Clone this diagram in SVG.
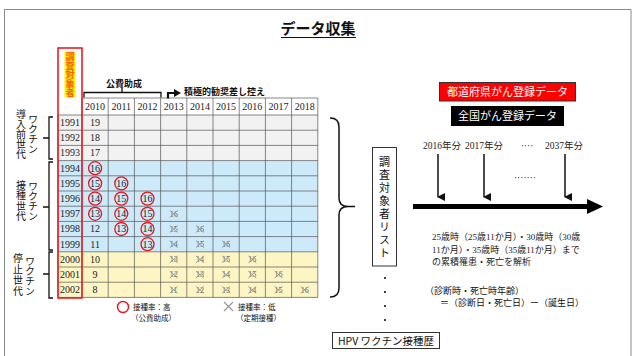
<svg xmlns="http://www.w3.org/2000/svg" width="634" height="356" viewBox="0 0 634 356">
<defs>
<style>
.jp{font-family:"Noto Sans CJK JP","Liberation Sans",sans-serif;fill:#111}
.sr{font-family:"Liberation Serif","Noto Sans CJK JP",serif;fill:#222}
.num{font-family:"Liberation Serif",serif;font-size:10px;fill:#222;text-anchor:middle}
.xn{font-family:"Liberation Serif",serif;font-size:8px;fill:#666;text-anchor:middle}
.grid{stroke:#555;stroke-width:0.7;fill:none}
.circ{fill:none;stroke:#e8141c;stroke-width:1.3}
.xx{stroke:#999;stroke-width:0.9;fill:none}
.vt{writing-mode:vertical-rl;text-anchor:middle}
.br{fill:none;stroke:#111;stroke-width:1.3}
</style>
<marker id="ah" markerUnits="userSpaceOnUse" markerWidth="8" markerHeight="8" refX="4" refY="7" orient="auto-start-reverse" viewBox="0 0 8 8">
<path d="M0,0 L8,0 L4,8 z" fill="#111"/>
</marker>
<marker id="ahr" markerUnits="userSpaceOnUse" markerWidth="7" markerHeight="8" refX="3" refY="4" orient="0" viewBox="0 0 7 8">
<path d="M0,0 L7,4 L0,8 z" fill="#111"/>
</marker>
</defs>
<rect x="0" y="0" width="634" height="356" fill="#fff"/>
<path d="M4.5,360 L4.5,9.5 L631,9.5 L631,360" fill="none" stroke="#888" stroke-width="1"/>

<g id="title">
<text class="jp" x="318" y="34" font-size="15" font-weight="bold" text-anchor="middle">データ収集</text>
<line x1="281" y1="37.5" x2="356" y2="37.5" stroke="#111" stroke-width="1.2"/>
</g>

<g id="table">
<rect x="58" y="115" width="259.8" height="45.6" fill="#f2f2f2"/>
<rect x="58" y="160.6" width="259.8" height="91.2" fill="#cdeafa"/>
<rect x="58" y="251.8" width="259.8" height="45.6" fill="#fdf6c4"/>
<g class="grid">
<path d="M82,98 H317.8 M58,115 H317.8 M58,130.2 H317.8 M58,145.4 H317.8 M58,160.6 H317.8 M58,175.8 H317.8 M58,191 H317.8 M58,206.2 H317.8 M58,221.4 H317.8 M58,236.6 H317.8 M58,251.8 H317.8 M58,267 H317.8 M58,282.2 H317.8 M58,297.4 H317.8"/>
<path d="M58,115 V297.4 M82,98 V297.4 M108.2,98 V297.4 M134.4,98 V297.4 M160.6,98 V297.4 M186.8,98 V297.4 M213,98 V297.4 M239.2,98 V297.4 M265.4,98 V297.4 M291.6,98 V297.4 M317.8,98 V297.4"/>
</g>
<g class="num">
<text x="95.1" y="110">2010</text><text x="121.3" y="110">2011</text><text x="147.5" y="110">2012</text><text x="173.7" y="110">2013</text><text x="199.9" y="110">2014</text><text x="226.1" y="110">2015</text><text x="252.3" y="110">2016</text><text x="278.5" y="110">2017</text><text x="304.7" y="110">2018</text>
<text x="70" y="126">1991</text><text x="70" y="141.2">1992</text><text x="70" y="156.4">1993</text><text x="70" y="171.6">1994</text><text x="70" y="186.8">1995</text><text x="70" y="202">1996</text><text x="70" y="217.2">1997</text><text x="70" y="232.4">1998</text><text x="70" y="247.6">1999</text><text x="70" y="262.8">2000</text><text x="70" y="278">2001</text><text x="70" y="293.2">2002</text>
<text x="95.1" y="126">19</text><text x="95.1" y="141.2">18</text><text x="95.1" y="156.4">17</text><text x="95.1" y="171.6">16</text><text x="95.1" y="186.8">15</text><text x="95.1" y="202">14</text><text x="95.1" y="217.2">13</text><text x="95.1" y="232.4">12</text><text x="95.1" y="247.6">11</text><text x="95.1" y="262.8">10</text><text x="95.1" y="278">9</text><text x="95.1" y="293.2">8</text>
<text x="121.3" y="186.8">16</text><text x="121.3" y="202">15</text><text x="147.5" y="202">16</text>
<text x="121.3" y="217.2">14</text><text x="147.5" y="217.2">15</text>
<text x="121.3" y="232.4">13</text><text x="147.5" y="232.4">14</text>
<text x="147.5" y="247.6">13</text>
</g>
<g class="circ">
<circle cx="95.1" cy="168.2" r="6.5"/>
<circle cx="95.1" cy="183.4" r="6.5"/><circle cx="121.3" cy="183.4" r="6.5"/>
<circle cx="95.1" cy="198.6" r="6.5"/><circle cx="121.3" cy="198.6" r="6.5"/><circle cx="147.5" cy="198.6" r="6.5"/>
<circle cx="95.1" cy="213.8" r="6.5"/><circle cx="121.3" cy="213.8" r="6.5"/><circle cx="147.5" cy="213.8" r="6.5"/>
<circle cx="121.3" cy="229" r="6.5"/><circle cx="147.5" cy="229" r="6.5"/>
<circle cx="147.5" cy="244.2" r="6.5"/>
</g>
<g class="xn">
<text x="173.7" y="216.6">16</text>
<text x="173.7" y="231.8">15</text><text x="199.9" y="231.8">16</text>
<text x="173.7" y="247">14</text><text x="199.9" y="247">15</text><text x="226.1" y="247">16</text>
<text x="173.7" y="262.2">13</text><text x="199.9" y="262.2">14</text><text x="226.1" y="262.2">15</text><text x="252.3" y="262.2">16</text>
<text x="173.7" y="277.4">12</text><text x="199.9" y="277.4">13</text><text x="226.1" y="277.4">14</text><text x="252.3" y="277.4">15</text><text x="278.5" y="277.4">16</text>
<text x="173.7" y="292.6">11</text><text x="199.9" y="292.6">12</text><text x="226.1" y="292.6">13</text><text x="252.3" y="292.6">14</text><text x="278.5" y="292.6">15</text><text x="304.7" y="292.6">16</text>
</g>
<g class="xx">
<path d="M169.7,210.3 l8,7 m0,-7 l-8,7"/>
<path d="M169.7,225.5 l8,7 m0,-7 l-8,7 M195.9,225.5 l8,7 m0,-7 l-8,7"/>
<path d="M169.7,240.7 l8,7 m0,-7 l-8,7 M195.9,240.7 l8,7 m0,-7 l-8,7 M222.1,240.7 l8,7 m0,-7 l-8,7"/>
<path d="M169.7,255.9 l8,7 m0,-7 l-8,7 M195.9,255.9 l8,7 m0,-7 l-8,7 M222.1,255.9 l8,7 m0,-7 l-8,7 M248.3,255.9 l8,7 m0,-7 l-8,7"/>
<path d="M169.7,271.1 l8,7 m0,-7 l-8,7 M195.9,271.1 l8,7 m0,-7 l-8,7 M222.1,271.1 l8,7 m0,-7 l-8,7 M248.3,271.1 l8,7 m0,-7 l-8,7 M274.5,271.1 l8,7 m0,-7 l-8,7"/>
<path d="M169.7,286.3 l8,7 m0,-7 l-8,7 M195.9,286.3 l8,7 m0,-7 l-8,7 M222.1,286.3 l8,7 m0,-7 l-8,7 M248.3,286.3 l8,7 m0,-7 l-8,7 M274.5,286.3 l8,7 m0,-7 l-8,7 M300.7,286.3 l8,7 m0,-7 l-8,7"/>
</g>
</g>

<g id="subject-column">
<rect x="64.5" y="51.5" width="11" height="46" fill="#fff200"/>
<text class="jp vt" x="70" y="75" font-size="9" font-weight="bold" style="fill:#ff5a00">調査対象者</text>
<rect x="58" y="48" width="24" height="250" fill="none" stroke="#ee1c25" stroke-width="1.6"/>
</g>

<g id="subsidy-label">
<text class="jp" x="124" y="87" font-size="9" font-weight="bold" text-anchor="middle">公費助成</text>
<text class="jp" x="184" y="94.5" font-size="9" font-weight="bold">積極的勧奨差し控え</text>
</g>

<g id="gen-pre">
<text class="jp vt" x="21" y="134" font-size="10">導入前世代</text>
<text class="jp vt" x="33" y="134" font-size="10">ワクチン</text>
</g>
<g id="gen-vacc">
<text class="jp vt" x="21" y="201" font-size="10" letter-spacing="0.5">接種世代</text>
<text class="jp vt" x="33" y="201" font-size="10">ワクチン</text>
</g>
<g id="gen-stop">
<text class="jp vt" x="18" y="275" font-size="10" letter-spacing="1">停止世代</text>
<text class="jp vt" x="30" y="276" font-size="10">ワクチン</text>
</g>

<g id="list-box">
<rect x="372.5" y="147.5" width="24" height="118.5" fill="#fff" stroke="#333" stroke-width="1"/>
<text class="jp vt" x="384.5" y="208" font-size="11" letter-spacing="2">調査対象者リスト</text>
<g fill="#111"><circle cx="385" cy="278" r="1.1"/><circle cx="385" cy="292" r="1.1"/><circle cx="385" cy="306" r="1.1"/><circle cx="385" cy="320" r="1.1"/></g>
</g>

<g id="hpv-box">
<rect x="332.5" y="332.5" width="107" height="16" fill="#fff" stroke="#333" stroke-width="1"/>
<text class="jp" x="386" y="344.5" font-size="10.5" text-anchor="middle">HPV ワクチン接種歴</text>
</g>

<g id="pref-registry">
<rect x="439.5" y="82.5" width="136" height="18.5" fill="#ff0000" stroke="#333" stroke-width="1"/>
<text class="jp" x="507.5" y="95.5" font-size="11" text-anchor="middle" style="fill:#fff">都道府県がん登録データ</text>
</g>
<g id="national-registry">
<rect x="451" y="106" width="113" height="20" fill="#000"/>
<text class="jp" x="507.5" y="120" font-size="11" text-anchor="middle" style="fill:#fff">全国がん登録データ</text>
</g>

<g id="years">
<text class="sr" x="442" y="149" font-size="9.5" text-anchor="middle">2016年分</text>
<text class="sr" x="484" y="149" font-size="9.5" text-anchor="middle">2017年分</text>
<text class="sr" x="527" y="149" font-size="9.5" text-anchor="middle">····</text>
<text class="sr" x="564" y="149" font-size="9.5" text-anchor="middle">2037年分</text>
<text class="sr" x="525" y="181" font-size="9.5" text-anchor="middle">·······</text>
</g>

<g id="notes">
<text class="sr" x="432" y="240" font-size="9">25歳時（25歳11か月）・30歳時（30歳</text>
<text class="sr" x="432" y="252.5" font-size="9">11か月）・35歳時（35歳11か月）まで</text>
<text class="sr" x="432" y="265" font-size="9">の累積罹患・死亡を解析</text>
<text class="jp" x="425" y="294" font-size="9">（診断時・死亡時年齢）</text>
<text class="jp" x="440" y="306" font-size="9">＝（診断日・死亡日）ー（誕生日）</text>
</g>

<g id="legend">
<circle cx="123" cy="307" r="5.5" fill="none" stroke="#e8141c" stroke-width="1.4"/>
<text class="jp" x="133" y="310" font-size="7.5">接種率：高</text>
<text class="jp" x="131" y="321" font-size="7.5">（公費助成）</text>
<path d="M224,302 l9,9 m0,-9 l-9,9" stroke="#999" stroke-width="1.3"/>
<text class="jp" x="238" y="310" font-size="7.5">接種率：低</text>
<text class="jp" x="236" y="321" font-size="7.5">（定期接種）</text>
</g>

<g id="connectors">
<path class="br" d="M84,97.5 V92.5 H161 V97.5 M122,92.5 V88"/>
<path d="M168,98.5 V93 H177" fill="none" stroke="#111" stroke-width="2.2" marker-end="url(#ahr)"/>
<path class="br" d="M53,117 H49 V159 H53 M49,138 H43"/>
<path class="br" d="M53,162 H49 V250 H53 M49,207 H43"/>
<path class="br" d="M53,252 H49 V298 H53 M49,274 H43"/>
<path d="M330,118 Q339,118 339,127 L339,198 Q339,206.5 348,206.5 L355,206.5 M348,206.5 Q339,206.5 339,215 L339,288 Q339,297 330,297" fill="none" stroke="#111" stroke-width="1.5"/>
<line x1="438" y1="154" x2="438" y2="197" stroke="#111" stroke-width="1.5" marker-end="url(#ah)"/>
<line x1="484" y1="154" x2="484" y2="197" stroke="#111" stroke-width="1.5" marker-end="url(#ah)"/>
<line x1="565" y1="154" x2="565" y2="197" stroke="#111" stroke-width="1.5" marker-end="url(#ah)"/>
<line x1="413" y1="206.5" x2="590" y2="206.5" stroke="#000" stroke-width="5"/>
<path d="M587,199 L603,206.5 L587,214 z" fill="#000"/>
</g>
</svg>
